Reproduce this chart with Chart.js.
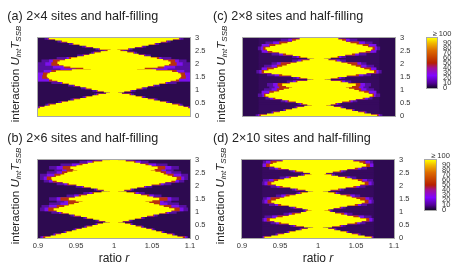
<!DOCTYPE html>
<html><head><meta charset="utf-8">
<style>
html,body{margin:0;padding:0;background:#fff;width:463px;height:273px;overflow:hidden}
#all{position:absolute;left:0;top:0;width:463px;height:273px;filter:blur(0.4px)}
canvas{position:absolute}
.t{position:absolute;font-family:"Liberation Sans",Arial,sans-serif;color:#222;white-space:nowrap;line-height:1}
.title{font-size:12.6px}
.rot{font-size:11.6px;transform:translate(-50%,-50%) rotate(-90deg)}
.rot sub{font-size:8px;vertical-align:-2px;line-height:0}
.xt{font-size:12px;transform:translate(-50%,-50%)}
.top{font-size:7.5px;color:#333;transform:translate(-50%,-50%)}
</style></head><body><div id="all"></div>
<script src="https://cdn.jsdelivr.net/npm/chart.js@4"></script>
<script>
// interaction rows: coarse rows U = 0, 0.1 ... 3 for the fringe bands, fine rows U = 0, 0.05 ... 3 for the yellow core
const uRows=[0,0.1,0.2,0.3,0.4,0.5,0.6,0.7,0.8,0.9,1,1.1,1.2,1.3,1.4,1.5,1.6,1.7,1.8,1.9,2,2.1,2.2,2.3,2.4,2.5,2.6,2.7,2.8,2.9,3];
const uFine=[0,0.05,0.1,0.15,0.2,0.25,0.3,0.35,0.4,0.45,0.5,0.55,0.6,0.65,0.7,0.75,0.8,0.85,0.9,0.95,1,1.05,1.1,1.15,1.2,1.25,1.3,1.35,1.4,1.45,1.5,1.55,1.6,1.65,1.7,1.75,1.8,1.85,1.9,1.95,2,2.05,2.1,2.15,2.2,2.25,2.3,2.35,2.4,2.45,2.5,2.55,2.6,2.65,2.7,2.75,2.8,2.85,2.9,2.95,3];
const xTicks=[0.9,0.95,1,1.05,1.1];
const yTicks=[0,0.5,1,1.5,2,2.5,3];
const barTicks=[0,10,20,30,40,50,60,70,80,90];
// left contour of each value band on every row, as ratio r x 1000 (the map is read as mirrored about r = 1)
const aYellow=[900,900,900,900,900,900,903,909,916,924,932,940,948,956,964,972,980,990,995,987,979,971,964,956,949,941,933,926,919,915,913,912,913,916,924,945,970,960,943,934,928,926,929,936,944,952,961,968,975,983,992,996,982,973,964,955,947,939,932,923,915];
const aRed=[900,900,900,902,914,931,947,963,978,994,978,963,948,932,915,906,907,918,950,935,918,920,941,960,974,989,981,963,946,931,914];
const aViolet=[900,900,900,901,913,930,946,962,977,993,977,962,947,930,900,900,900,908,930,920,910,915,938,959,973,988,980,962,945,930,913];
const aPurple=[900,900,900,900,910,927,943,959,974,990,972,957,940,918,900,900,900,900,900,900,900,905,925,952,970,985,976,958,941,926,909];
const bYellow=[910,917,924,931,938,945,951,958,965,972,979,986,995,989,981,973,965,957,949,941,933,925,921,928,935,941,948,954,959,950,941,949,957,965,974,984,995,987,979,970,961,951,941,933,925,919,918,924,930,935,939,946,952,947,943,951,959,966,974,985,995];
const bRed=[907,923,937,950,964,978,992,980,964,948,931,914,925,940,940,930,954,972,992,978,960,939,920,912,922,932,938,933,955,972,994];
const bViolet=[905,922,936,949,963,977,991,979,963,947,928,909,915,930,935,925,948,968,991,977,958,935,915,908,912,925,932,925,945,965,990];
const bPurple=[903,920,934,947,961,975,989,976,960,943,918,903,905,915,925,915,938,960,988,974,950,925,908,903,903,912,922,915,930,955,975];
const cYellow=[924,932,941,949,957,965,972,981,991,985,979,970,961,952,943,934,930,935,941,948,954,961,965,957,952,962,972,985,993,985,976,964,952,938,928,934,941,946,952,958,963,971,979,988,994,985,976,966,957,948,939,932,930,936,943,951,959,965,970,975,979];
const cRed=[922,940,956,971,988,977,959,940,928,935,945,948,946,970,991,974,948,925,932,945,950,977,993,974,953,933,927,935,948,965,977];
const cViolet=[920,939,955,970,987,975,956,936,926,925,938,942,940,966,990,971,942,922,925,938,945,973,992,971,948,925,924,925,940,960,975];
const cPurple=[917,937,953,968,985,972,950,930,920,925,928,935,932,958,988,966,932,918,925,928,938,965,990,965,938,928,920,928,930,950,972];
const dYellow=[930,939,948,956,963,971,979,987,994,982,972,962,952,943,937,945,954,962,970,978,985,992,987,980,972,962,952,943,939,945,950,956,963,971,979,987,994,984,974,964,954,945,939,943,948,956,965,974,983,992,990,981,972,962,952,943,937,941,946,954,963];
const dRed=[929,947,962,978,993,970,949,933,947,966,984,986,970,948,934,938,958,977,993,972,950,934,942,962,982,991,970,948,932,938,958];
const dViolet=[928,946,961,977,992,968,945,929,940,962,983,985,968,944,930,933,952,975,992,970,946,930,936,958,981,990,968,944,928,932,952];
const dPurple=[927,944,959,975,990,964,938,927,930,955,981,983,964,936,927,928,945,972,990,966,938,927,928,950,978,988,964,936,927,928,940];
const bandColors={yellow:'#ffff00',red:'#b8300f',violet:'#7d10ee',purple:'#560fa0',deep:'#360a5e',dark:'#2d0a50'};
const paletteStops=[[0,'#14052a'],[0.1,'#520096'],[0.25,'#8004ff'],[0.4,'#a11096'],[0.5,'#b52000'],[0.75,'#dd6b00'],[0.9,'#f2ba00'],[1,'#ffff00']];
const titles=['(a) 2×4 sites and half-filling','(b) 2×6 sites and half-filling','(c) 2×8 sites and half-filling','(d) 2×10 sites and half-filling'];

const FONT='"Liberation Sans",Arial,sans-serif';
const all=document.getElementById('all');
function addText(cls,x,y,html){const e=document.createElement('div');e.className='t '+cls;e.style.left=x+'px';e.style.top=y+'px';e.innerHTML=html;all.appendChild(e);return e;}
function addCanvas(l,t,w,h){const c=document.createElement('canvas');c.width=w;c.height=h;c.style.left=l+'px';c.style.top=t+'px';c.style.width=w+'px';c.style.height=h+'px';all.appendChild(c);return c;}
const frame=(bg)=>({id:'frame',
  beforeDatasetsDraw(ch){if(!bg)return;const a=ch.chartArea,x=ch.ctx;x.save();x.fillStyle=bg;x.fillRect(a.left,a.top,a.width,a.height);x.restore();},
  afterDatasetsDraw(ch){const a=ch.chartArea,x=ch.ctx;x.save();x.strokeStyle='#a8a8a8';x.lineWidth=1;x.strokeRect(a.left-0.5,a.top-0.5,a.width+1,a.height+1);x.restore();}});
const band=(edges,rows,color,th)=>({data:edges.map((e,i)=>({x:[e/1000,(2000-e)/1000],y:rows[i]})),backgroundColor:color,barThickness:th,grouped:false});
const noPad=s=>{s.paddingTop=0;s.paddingBottom=0;s.paddingLeft=0;s.paddingRight=0;};
const PW=152,PH=78;
function panel(px,py,showX,y,r,v,p,deep){
  const PADL=10,PADT=5,PADB=showX?0:6,YW=26,XH=showX?16:1;
  const c=addCanvas(px-PADL,py-PADT,PADL+PW+YW,PADT+PH+XH+PADB);
  const sets=[band(y,uFine,bandColors.yellow,1.7),band(r,uRows,bandColors.red,2.9),band(v,uRows,bandColors.violet,2.9),band(p,uRows,bandColors.purple,2.9)];
  if(deep) sets.push(band(uRows.map(()=>deep),uRows,bandColors.deep,2.9));
  new Chart(c,{type:'bar',data:{datasets:sets},plugins:[frame(bandColors.dark)],options:{
    indexAxis:'y',responsive:false,animation:false,devicePixelRatio:1,
    layout:{padding:{left:PADL,top:PADT,right:0,bottom:PADB}},
    plugins:{legend:{display:false},title:{display:false},tooltip:{enabled:false}},
    scales:{
      x:{type:'linear',min:0.9,max:1.1,grid:{display:false,drawTicks:false},border:{display:false},offset:false,
         afterBuildTicks:s=>{s.ticks=xTicks.map(value=>({value}));},
         afterFit:s=>{s.height=XH;noPad(s);},
         ticks:{display:showX,autoSkip:false,maxRotation:0,padding:3,font:{size:7.5,family:FONT},color:'#333',callback:v=>String(v)}},
      y:{type:'linear',position:'right',min:0,max:3,offset:false,grid:{display:false,drawTicks:false},border:{display:false},
         afterBuildTicks:s=>{s.ticks=yTicks.map(value=>({value}));},
         afterFit:s=>{s.width=YW;noPad(s);},
         ticks:{autoSkip:false,padding:5,font:{size:7.5,family:FONT},color:'#333',callback:v=>String(v)}}
    }}});
}
function colorbar(px,py,w){
  const c=addCanvas(px-2,py-5,w+2+20,50+5+5);
  new Chart(c,{type:'bar',data:{labels:['v'],datasets:[{data:[[0,100]],barPercentage:1,categoryPercentage:1,
     backgroundColor:(ctx)=>{const a=ctx.chart.chartArea;if(!a)return '#000';const g=ctx.chart.ctx.createLinearGradient(0,a.bottom,0,a.top);paletteStops.forEach(s=>g.addColorStop(s[0],s[1]));return g;}}]},
    plugins:[frame(null)],options:{responsive:false,animation:false,devicePixelRatio:1,
    layout:{padding:{left:2,top:5,right:0,bottom:5}},
    plugins:{legend:{display:false},tooltip:{enabled:false}},
    scales:{x:{display:false},
      y:{position:'right',min:0,max:100,grid:{display:false,drawTicks:false},border:{display:false},
         afterBuildTicks:s=>{s.ticks=barTicks.map(value=>({value}));},
         afterFit:s=>{s.width=20;noPad(s);},
         ticks:{autoSkip:false,maxRotation:0,minRotation:0,padding:6,font:{size:7.5,family:FONT},color:'#333',callback:v=>String(v)}}
    }}});
}
panel(38,38,false,aYellow,aRed,aViolet,aPurple,null);
panel(38,160,true,bYellow,bRed,bViolet,bPurple,null);
panel(243,38,false,cYellow,cRed,cViolet,cPurple,921);
panel(242,160,true,dYellow,dRed,dViolet,dPurple,927);
colorbar(427,38,10);
colorbar(425,160,11);

addText('title',7.3,9.5,titles[0]);
addText('title',7.3,131.5,titles[1]);
addText('title',213,9.5,titles[2]);
addText('title',213,131.5,titles[3]);
const yLab='interaction <i>U<sub>int</sub>T<sub>SSB</sub></i>';
addText('rot',15,74,yLab);
addText('rot',15,196,yLab);
addText('rot',221,74,yLab);
addText('rot',220,196,yLab);
const xLab='ratio <i>r</i>';
addText('xt',114,258,xLab);
addText('xt',318,258,xLab);
addText('top',442,33.5,'≥ 100');
addText('top',440.5,155.5,'≥ 100');
</script></body></html>
